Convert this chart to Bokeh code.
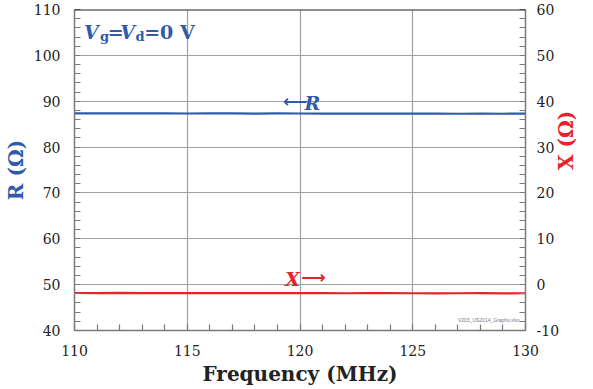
import math
from bokeh.plotting import figure
from bokeh.models import Range1d, LinearAxis, Span, Label, FixedTicker
from bokeh.embed import file_html
from bokeh.resources import INLINE

# ---- data ----
freq_mhz = [110, 111, 112, 113, 114, 115, 116, 117, 118, 119, 120,
            121, 122, 123, 124, 125, 126, 127, 128, 129, 130]
r_ohm = [87.35, 87.34, 87.36, 87.33, 87.35, 87.32, 87.34, 87.33, 87.31, 87.33, 87.32,
         87.30, 87.31, 87.29, 87.30, 87.28, 87.29, 87.27, 87.28, 87.27, 87.28]
x_ohm = [-1.82, -1.84, -1.81, -1.83, -1.85, -1.84, -1.86, -1.85, -1.84, -1.86, -1.87,
         -1.86, -1.88, -1.87, -1.86, -1.88, -1.89, -1.88, -1.87, -1.89, -1.88]
x_ticks = [110, 115, 120, 125, 130]
r_ticks = [40, 50, 60, 70, 80, 90, 100, 110]
x_right_ticks = [-10, 0, 10, 20, 30, 40, 50, 60]

BLUE = "#2F5BAA"
RED = "#E8212B"
GRID = "#A0A0A0"
TICK = "#7A7A7A"
FONT = "DejaVu Serif"

p = figure(width=593, height=389, output_backend="svg", toolbar_location=None,
           x_range=Range1d(110, 130), y_range=Range1d(40, 110),
           min_border_left=71, min_border_right=64, min_border_top=9, min_border_bottom=59)
p.extra_y_ranges = {"x": Range1d(-10, 60)}
p.outline_line_color = None
p.background_fill_color = "white"

# axes
p.xaxis.ticker = FixedTicker(ticks=x_ticks, minor_ticks=list(range(110, 131)))
p.yaxis.ticker = FixedTicker(ticks=r_ticks, minor_ticks=list(range(40, 111, 2)))
right = LinearAxis(y_range_name="x",
                   ticker=FixedTicker(ticks=x_right_ticks, minor_ticks=list(range(-10, 61, 2))))
p.add_layout(right, "right")

for ax in [p.xaxis[0], p.yaxis[0], right]:
    ax.axis_line_color = TICK
    ax.axis_line_width = 1.5
    ax.major_tick_out = 0
    ax.major_tick_in = 0
    ax.minor_tick_in = 6
    ax.minor_tick_out = 0
    ax.minor_tick_line_color = TICK
    ax.minor_tick_line_width = 1.2
    ax.major_label_text_font = FONT
    ax.major_label_text_font_size = "14px"
    ax.major_label_text_color = "#222222"
    ax.major_label_standoff = 14
    ax.axis_label_text_font = FONT
    ax.axis_label_text_font_style = "bold"
    ax.axis_label_text_font_size = "20px"

right.major_label_overrides = {-10: "-10"}

p.xaxis.axis_label = "Frequency (MHz)"
p.xaxis.axis_label_text_color = "#222222"
p.xaxis.axis_label_text_font_size = "20px"
p.xaxis.axis_label_standoff = 3
p.xaxis.major_label_standoff = 14
p.yaxis.axis_label = "R (Ω)"
p.yaxis.axis_label_text_color = BLUE
p.yaxis.axis_label_standoff = 3
right.axis_label = "X (Ω)"
right.axis_label_text_color = RED
right.axis_label_standoff = 4
right.major_label_standoff = 11
right.axis_label_orientation = math.pi / 2

p.xgrid.ticker = FixedTicker(ticks=x_ticks)
p.ygrid.ticker = FixedTicker(ticks=r_ticks)
p.xgrid.grid_line_color = GRID
p.ygrid.grid_line_color = GRID
p.xgrid.grid_line_width = 1.2
p.ygrid.grid_line_width = 1.2

p.add_layout(Span(location=110, dimension="width", line_color="#222222", line_width=2))

# lines
p.line(freq_mhz, r_ohm, line_color=BLUE, line_width=2.2)
p.line(freq_mhz, x_ohm, line_color=RED, line_width=2.2, y_range_name="x")

# annotations
def lab(x, y, t, color, size, style="bold", y_range_name="default", font=FONT):
    p.add_layout(Label(x=x, y=y, text=t, text_color=color, text_font=font,
                       text_font_size=size, text_font_style=style,
                       text_baseline="alphabetic", text_align="left",
                       y_range_name=y_range_name))

# V_g = V_d = 0 V
lab(110.42, 105.2, "V", BLUE, "19px", "bold italic")
lab(111.13, 104.2, "g", BLUE, "13px")
lab(111.47, 105.2, "=", BLUE, "19px")
lab(112.03, 105.2, "V", BLUE, "19px", "bold italic")
lab(112.71, 104.2, "d", BLUE, "13px")
lab(113.09, 105.2, "=0 V", BLUE, "19px")

# ←R
lab(119.25, 90.0, "⟵", BLUE, "17px", "bold", font="DejaVu Sans")
lab(120.2, 89.7, "R", BLUE, "19px", "bold italic")
# X→
lab(119.35, 1.3, "X", RED, "19px", "bold italic", "x")
lab(120.05, 1.6, "⟶", RED, "17px", "bold", "x", font="DejaVu Sans")

p.add_layout(Label(x=129.74, y=8, text="V203_US2014_Graphs.xlsx", text_color="#777777",
                   text_font="Liberation Sans", text_font_size="5px", text_align="right",
                   text_baseline="bottom", x_units="data", y_units="screen"))

open("out.html", "w").write(file_html(p, INLINE))
